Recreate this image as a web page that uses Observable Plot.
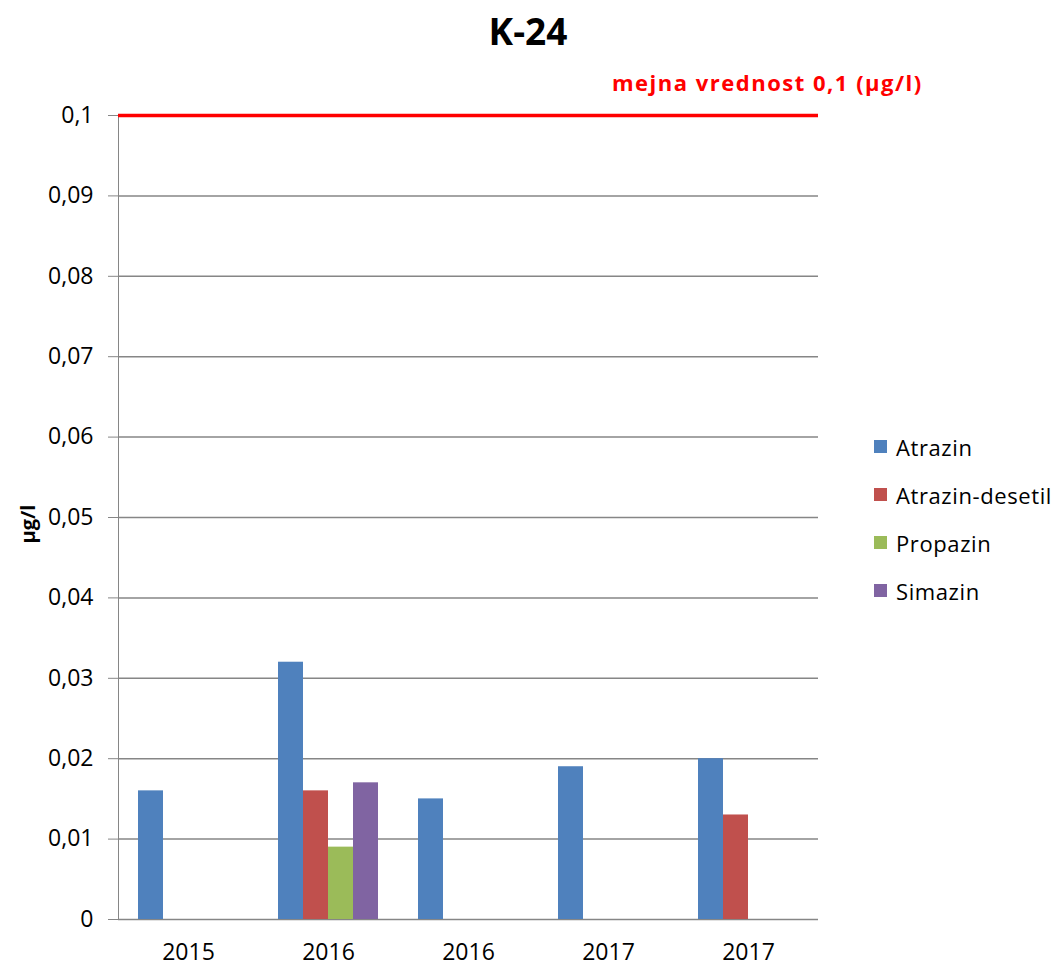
<!DOCTYPE html>
<html>
<head>
<meta charset="utf-8">
<script src="https://cdn.jsdelivr.net/npm/d3@7"></script>
<script src="https://cdn.jsdelivr.net/npm/@observablehq/plot@0.6"></script>
<style>
  html, body { margin: 0; padding: 0; background: #fff; }
  #wrap { position: relative; width: 1056px; height: 967px; font-family: "Open Sans", Lato, sans-serif; }
  #chart { position: absolute; left: 0; top: 0; }
  #chart svg text { fill: #000; }
  .title { position: absolute; left: 0; width: 1056px; top: 12px; text-align: center;
           font-size: 37px; font-weight: bold; line-height: 1; color: #000; }
  .limit { position: absolute; left: 612px; top: 71px; font-size: 22px; letter-spacing: 1.5px; font-weight: bold;
           line-height: 1; color: #ff0000; white-space: nowrap; }
  .ylabel { position: absolute; left: 28px; top: 524px; transform: translate(-50%, -50%) rotate(-90deg);
            font-size: 20px; font-weight: bold; line-height: 1; color: #000; white-space: nowrap; }
  .legend-item { position: absolute; left: 874px; font-size: 22px; letter-spacing: 0.6px; line-height: 1; color: #000; white-space: nowrap; }
  .legend-item .swatch { position: absolute; left: 0; top: 4px; width: 13px; height: 13px; }
  .legend-item .name { position: absolute; left: 22px; top: 0; }
</style>
</head>
<body>
<div id="wrap">
  <div id="chart"></div>
  <div class="title" id="title"></div>
  <div class="limit" id="limit"></div>
  <div class="ylabel" id="ylabel"></div>
</div>
<script>
// Sampling dates (labels repeat: two samples in 2016 and two in 2017)
const groups = ["2015", "2016", "2016", "2017", "2017"];
const series = ["Atrazin", "Atrazin-desetil", "Propazin", "Simazin"];

// Measured concentrations in µg/l (null = not detected)
const atrazin        = [0.016, 0.032, 0.015, 0.019, 0.020];
const atrazinDesetil = [null,  0.016, null,  null,  0.013];
const propazin       = [null,  0.009, null,  null,  null];
const simazin        = [null,  0.017, null,  null,  null];

const seriesColors = ["#4F81BD", "#C0504D", "#9BBB59", "#8064A2"];
const yTicks = [0, 0.01, 0.02, 0.03, 0.04, 0.05, 0.06, 0.07, 0.08, 0.09, 0.1];
const limitValue = 0.1;
const chartTitle = "K-24";
const unit = "µg/l";

const commaNum = d => d === 0 ? "0" : String(d).replace(".", ",");

const seriesValues = [atrazin, atrazinDesetil, propazin, simazin];
const rows = series.flatMap((s, j) =>
  seriesValues[j].map((v, i) => ({group: i, series: s, value: v}))
).filter(d => d.value != null);

const chart = Plot.plot({
  width: 1056,
  height: 967,
  marginLeft: 117,
  marginRight: 237,
  marginTop: 115,
  marginBottom: 48,
  style: {fontFamily: "'Open Sans', Lato, sans-serif", fontSize: "23px", color: "#868686", background: "transparent", overflow: "visible"},
  facet: {data: rows, x: "group"},
  fx: {domain: groups.map((_, i) => i), padding: 0, axis: "bottom", tickSize: 0, tickPadding: 24,
       tickFormat: i => groups[i], label: null},
  x: {domain: series, paddingInner: 0, paddingOuter: 0.75, axis: null},
  y: {domain: [0, 0.1], ticks: yTicks, tickFormat: commaNum, tickSize: 10, tickPadding: 15, line: true, label: null},
  color: {domain: series, range: seriesColors},
  marks: [
    Plot.ruleY(yTicks, {stroke: "#868686", strokeWidth: 1.5}),
    Plot.barY(rows, {x: "series", y: "value", fill: "series"}),
    Plot.ruleY([limitValue], {stroke: "#ff0000", strokeWidth: 3.5})
  ]
});
document.getElementById("chart").appendChild(chart);

document.getElementById("title").textContent = chartTitle;
document.getElementById("limit").textContent = `mejna vrednost ${commaNum(limitValue)} (${unit})`;
document.getElementById("ylabel").textContent = unit;

// Legend on the right
const wrap = document.getElementById("wrap");
series.forEach((s, i) => {
  const item = document.createElement("div");
  item.className = "legend-item";
  item.style.top = (436 + 48 * i) + "px";
  const sw = document.createElement("span");
  sw.className = "swatch";
  sw.style.background = seriesColors[i];
  const name = document.createElement("span");
  name.className = "name";
  name.textContent = s;
  item.appendChild(sw);
  item.appendChild(name);
  wrap.appendChild(item);
});
</script>
</body>
</html>
